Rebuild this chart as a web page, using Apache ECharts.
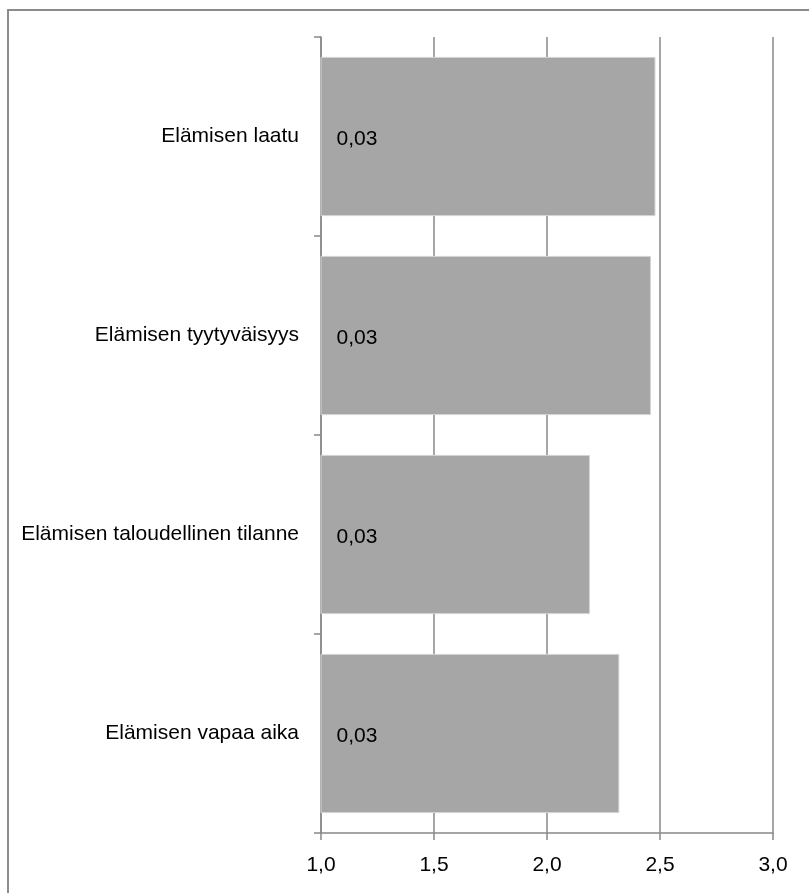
<!DOCTYPE html>
<html>
<head>
<meta charset="utf-8">
<script src="https://cdn.jsdelivr.net/npm/echarts@6/dist/echarts.min.js"></script>
<style>html,body{margin:0;padding:0;background:#fff}#c{width:809px;height:893px}</style>
</head>
<body>
<div id="c"></div>
<script>
const categories = ["Elämisen laatu", "Elämisen tyytyväisyys", "Elämisen taloudellinen tilanne", "Elämisen vapaa aika"];
const values = [2.48, 2.46, 2.19, 2.32];
const barLabels = ["0,03", "0,03", "0,03", "0,03"];
const xTicks = [1.0, 1.5, 2.0, 2.5, 3.0];

const FONT = "'Liberation Sans', Arial, sans-serif";
const chart = echarts.init(document.getElementById('c'), null, {renderer: 'canvas'});
chart.setOption({
  animation: false,
  backgroundColor: '#fff',
  graphic: [{
    type: 'rect', shape: {x: 8, y: 10, width: 900, height: 1000},
    style: {fill: 'none', stroke: '#8c8c8c', lineWidth: 2}, silent: true
  }],
  grid: {left: 321, right: 36, top: 37, bottom: 60, containLabel: false, outerBoundsMode: 'none'},
  xAxis: {
    type: 'value', min: xTicks[0], max: xTicks[xTicks.length - 1], interval: 0.5,
    axisLine: {show: true, lineStyle: {color: '#888', width: 1.5}},
    axisTick: {show: true, length: 7, lineStyle: {color: '#888', width: 1.5}},
    splitLine: {show: true, lineStyle: {color: '#888', width: 1.5}},
    axisLabel: {
      color: '#000', fontFamily: FONT, fontSize: 21, margin: 22,
      formatter: v => v.toFixed(1).replace('.', ',')
    }
  },
  yAxis: {
    type: 'category', data: categories, inverse: true,
    axisLine: {show: true, lineStyle: {color: '#888', width: 1.5}},
    axisTick: {show: true, length: 7, lineStyle: {color: '#888', width: 1.5}},
    axisLabel: {color: '#000', fontFamily: FONT, fontSize: 21, margin: 22, padding: [5, 0, 0, 0]}
  },
  series: [{
    type: 'bar', data: values, barCategoryGap: '20%',
    itemStyle: {color: '#a6a6a6', borderColor: '#d4d4d4', borderWidth: 1},
    label: {
      show: true, position: 'insideLeft', distance: 16, offset: [0, 3],
      color: '#000', fontFamily: FONT, fontSize: 21,
      formatter: p => barLabels[p.dataIndex]
    }
  }]
});
</script>
</body>
</html>
